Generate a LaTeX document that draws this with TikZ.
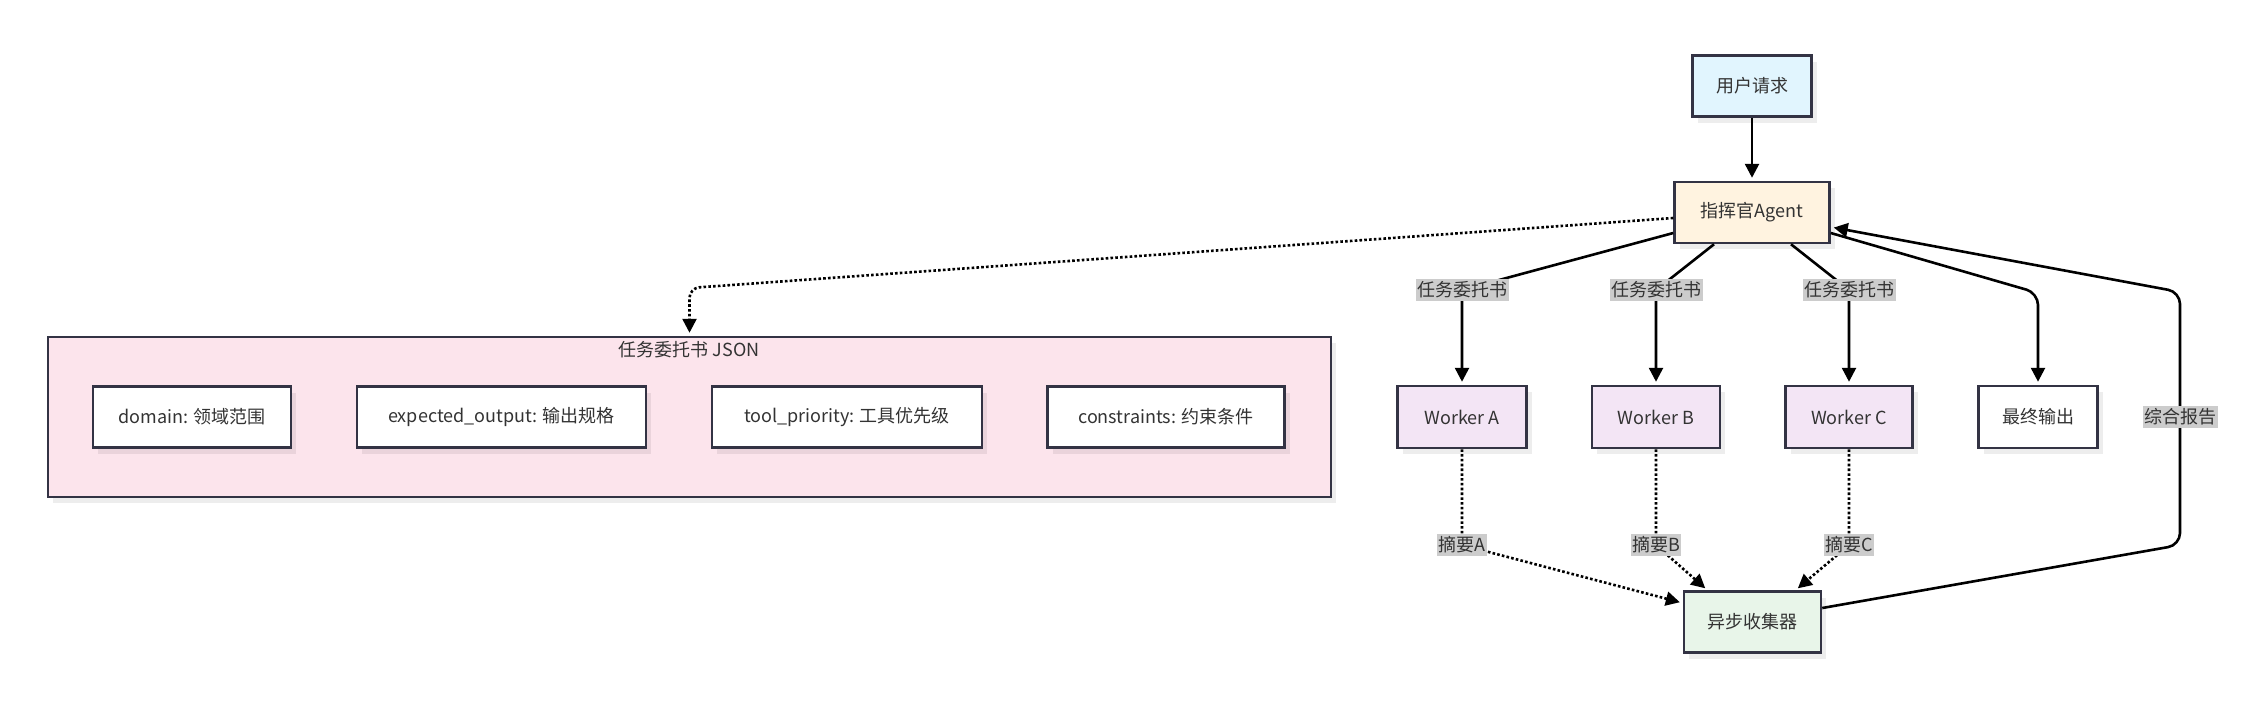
\documentclass[tikz,border=0pt]{standalone}
\usepackage{fontspec}
\setmainfont{Noto Sans CJK SC}
\usetikzlibrary{arrows.meta,shadows}
\definecolor{bd}{HTML}{333344}
\definecolor{txt}{HTML}{333333}
\definecolor{cuser}{HTML}{E1F5FE}
\definecolor{cagent}{HTML}{FFF3E0}
\definecolor{cwork}{HTML}{F3E5F5}
\definecolor{ccoll}{HTML}{E8F5E9}
\definecolor{cjson}{HTML}{FCE4EC}
\definecolor{lblgray}{HTML}{CCCCCC}
\begin{document}
\begin{tikzpicture}[x=1pt,y=-1pt,
  box/.style={draw=bd, line width=2.5pt, text=txt, inner sep=0pt,
    font=\fontsize{18}{22}\selectfont, minimum height=61pt,
    drop shadow={shadow xshift=5pt,shadow yshift=-6pt,fill=black,opacity=0.07}},
  edge/.style={line width=2.6pt, draw=black, -{Triangle[length=14pt,width=14pt]}, shorten >=3pt},
  dots/.style={edge, dash pattern=on 2.6pt off 2.2pt},
  lbl/.style={fill=lblgray, text=txt, inner xsep=1.5pt, inner ysep=3pt,
    font=\fontsize{18}{22}\selectfont}]
\useasboundingbox (0,0) rectangle (2258,716);

% cluster
\node[box, fill=cjson, minimum width=1283pt, minimum height=160pt] (json) at (689.5,417) {};
\node[text=txt, font=\fontsize{18}{22}\selectfont] (jt) at (689,350) {任务委托书 JSON};
\node[box, fill=white, minimum width=198pt] (dom) at (192,417) {domain: 领域范围};
\node[box, fill=white, minimum width=289pt] (exp) at (501.5,417) {expected\_output: 输出规格};
\node[box, fill=white, minimum width=270pt] (tool) at (847,417) {tool\_priority: 工具优先级};
\node[box, fill=white, minimum width=237pt] (con) at (1166,417) {constraints: 约束条件};

% main nodes
\node[box, fill=cuser, minimum width=119pt] (user) at (1752,86) {用户请求};
\node[box, fill=cagent, minimum width=155pt] (agent) at (1752,212.5) {指挥官Agent};
\node[box, fill=cwork, minimum width=129pt, minimum height=62pt] (wA) at (1462,417) {Worker A};
\node[box, fill=cwork, minimum width=128pt, minimum height=62pt] (wB) at (1656,417) {Worker B};
\node[box, fill=cwork, minimum width=127pt, minimum height=62pt] (wC) at (1849,417) {Worker C};
\node[box, fill=white, minimum width=119pt, minimum height=62pt] (fin) at (2038,417) {最终输出};
\node[box, fill=ccoll, minimum width=137pt] (coll) at (1752.5,622) {异步收集器};

\coordinate (cJ) at (689.5,288);
\coordinate (cL) at (0,290);
\coordinate (cF) at (0,293);
\coordinate (cS) at (0,545);
\coordinate (cR1) at (2180,545);
\coordinate (cR2) at (2180,292);

% edges
\draw[edge] (user) -- (agent);
\draw[dots, rounded corners=10pt] ([yshift=-5.5pt]agent.west) -- (cJ) -- (json.north);
\draw[edge, rounded corners=8pt] ([yshift=-20.5pt]agent.west) -- (wA.north |- cL) -- (wA.north);
\draw[edge, rounded corners=8pt] ([xshift=-38pt]agent.south) -- (wB.north |- cL) -- (wB.north);
\draw[edge, rounded corners=8pt] ([xshift=39pt]agent.south) -- (wC.north |- cL) -- (wC.north);
\draw[edge, rounded corners=12pt] ([yshift=-20.5pt]agent.east) -- (fin.north |- cF) -- (fin.north);
\draw[edge, rounded corners=12pt] ([yshift=14pt]coll.east) -- (cR1) -- (cR2) -- ([yshift=-14.5pt]agent.east);
\draw[dots, rounded corners=8pt] (wA.south) -- (wA.south |- cS) -- ([yshift=19pt]coll.west);
\draw[dots, rounded corners=8pt] (wB.south) -- (wB.south |- cS) -- ([xshift=-45pt]coll.north);
\draw[dots, rounded corners=8pt] (wC.south) -- (wC.south |- cS) -- ([xshift=43pt]coll.north);

% labels
\node[lbl] (tA) at (wA.north |- cL) {任务委托书};
\node[lbl] (tB) at (wB.north |- cL) {任务委托书};
\node[lbl] (tC) at (wC.north |- cL) {任务委托书};
\node[lbl] (rep) at (2180,417) {综合报告};
\node[lbl] (sA) at (wA.south |- cS) {摘要A};
\node[lbl] (sB) at (wB.south |- cS) {摘要B};
\node[lbl] (sC) at (wC.south |- cS) {摘要C};
\end{tikzpicture}
\end{document}
